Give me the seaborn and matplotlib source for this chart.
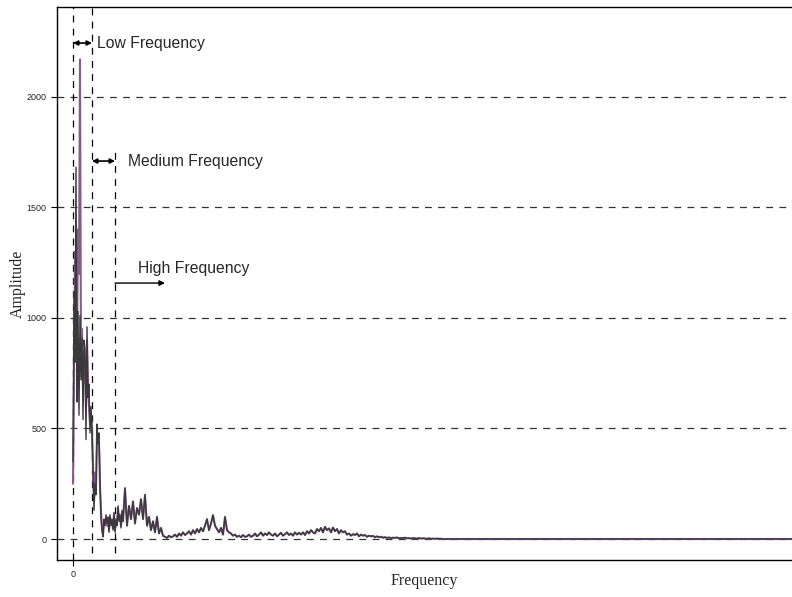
import numpy as np
import seaborn as sns
import pandas as pd
import matplotlib.pyplot as plt

# low frequency part, one point per bin (two overlapping spectra)
low_dark = [350, 1120, 800, 1683, 620, 1030, 560, 1010, 720, 910,
            540, 900, 860, 450, 960, 640, 700, 480, 600, 500,
            300, 130, 250, 200, 520, 430, 480, 260, 100, 40,
            10, 90, 60, 110, 70, 100, 30, 110, 60, 90,
            40, 120, 30, 90, 60, 150, 80, 110, 50, 130]
low_purple = [250, 700, 1300, 1100, 900, 1400, 1200, 2170, 800, 950,
              700, 850, 780, 600, 900, 700, 600, 520, 560, 480,
              330, 180, 300, 220, 480, 450, 440, 240, 120, 50,
              20, 70, 80, 90, 60, 95, 40, 100, 70, 80,
              50, 110, 40, 80, 70, 140, 90, 100, 60, 120]

# rest of the spectrum, every second bin from bin 50
rest_amp = [80, 230, 60, 150, 90, 170, 70, 140, 110, 180, 90, 200, 60, 100,
            40, 80, 30, 100, 25, 50, 15, 10,
            5, 15, 8, 12, 20, 10, 25, 15, 30, 18, 25, 35, 20, 40, 25, 45, 30,
            50, 35, 60, 90, 40, 70, 108, 60, 45, 30, 50, 20, 100, 40, 30,
            25, 15, 20, 10, 15, 8, 18, 10, 12, 20, 10, 15, 25, 12, 20, 30, 15,
            25, 18, 30, 20, 15, 25, 12, 20, 28, 15, 22, 30, 18, 25, 15, 30, 20, 28,
            20, 30, 18, 35, 25, 40, 30, 25, 45, 35, 50, 30, 55, 40, 48, 30, 52,
            35, 45, 25, 40, 30, 35, 20,
            25, 15, 22, 18, 25, 12, 20, 15, 18, 10, 15, 12, 14, 8, 12, 8, 10, 6,
            8, 5, 7, 4, 6, 5, 7, 3, 5, 4, 6, 3, 4, 2, 4, 3, 2, 4, 2, 3, 2, 1,
            3, 1, 2, 1, 2, 1, 1, 0]
tail_freq = [400, 500, 600, 719]
tail_amp = [0, 0, 0, 0]

rest_freq = 50 + 2 * np.arange(len(rest_amp))
low_freq = np.arange(len(low_dark))

freq_all = np.concatenate([low_freq, rest_freq, tail_freq])
df_dark = pd.DataFrame({"Frequency": freq_all,
                        "Amplitude": np.concatenate([low_dark, rest_amp, tail_amp])})
df_purple = pd.DataFrame({"Frequency": freq_all,
                          "Amplitude": np.concatenate([low_purple, rest_amp, tail_amp])})

sns.set_style("ticks")
fig = plt.figure(figsize=(7.92, 5.97), dpi=100)
ax = fig.add_axes([57 / 792, 37 / 597, 1 - 57 / 792, 553 / 597])

dash = (5.5, 5)
for yv in [0, 500, 1000, 1500, 2000]:
    ax.axhline(yv, color="#333333", lw=0.9, dashes=dash, zorder=1)
ax.axvline(0, color="black", lw=0.9, dashes=dash, zorder=1)
ax.axvline(19, ymin=0.013, ymax=1, color="black", lw=0.9, dashes=dash, zorder=1)
ax.axvline(42, ymin=0.013, ymax=0.747, color="black", lw=0.9, dashes=dash, zorder=1)

sns.lineplot(data=df_purple, x="Frequency", y="Amplitude", ax=ax, color="#8a5a8c",
             lw=1.5, estimator=None, sort=False, zorder=2)
sns.lineplot(data=df_dark, x="Frequency", y="Amplitude", ax=ax, color="#3a3a3c",
             lw=1.0, estimator=None, sort=False, zorder=3)

ax.set_xlim(-16, 719)
ax.set_ylim(-95, 2407)
ax.set_xticks([0])
ax.set_yticks([0, 500, 1000, 1500, 2000])
ax.tick_params(labelsize=6.5, length=4, width=0.8, color="black")
for lab in ax.get_xticklabels() + ax.get_yticklabels():
    lab.set_family("Liberation Sans")

ax.set_xlabel("Frequency", family="Liberation Serif", fontsize=11.5)
ax.set_ylabel("Amplitude", family="Liberation Serif", fontsize=11.5)
ax.xaxis.set_label_coords(0.5, -0.024)
ax.yaxis.set_label_coords(-0.043, 0.5)

for side in ["left", "bottom", "top"]:
    ax.spines[side].set_color("black")
    ax.spines[side].set_linewidth(1.0)
ax.spines["right"].set_visible(False)

arrow_kw = dict(arrowstyle="<|-|>", mutation_scale=7, color="black", lw=1.2,
                shrinkA=0, shrinkB=0)
ax.annotate("", xy=(19, 2244), xytext=(0, 2244), arrowprops=arrow_kw)
ax.annotate("", xy=(42, 1710), xytext=(19, 1710), arrowprops=arrow_kw)
ax.annotate("", xy=(92, 1158), xytext=(42, 1158),
            arrowprops=dict(arrowstyle="-|>", mutation_scale=8, color="black",
                            lw=1.0, shrinkA=0, shrinkB=0))

txt_kw = dict(family="Liberation Sans", fontsize=11.3, va="center", ha="left")
ax.text(24, 2244, "Low Frequency", **txt_kw)
ax.text(55, 1710, "Medium Frequency", **txt_kw)
ax.text(65, 1226, "High Frequency", **txt_kw)

fig.savefig("out.png", dpi=100)
